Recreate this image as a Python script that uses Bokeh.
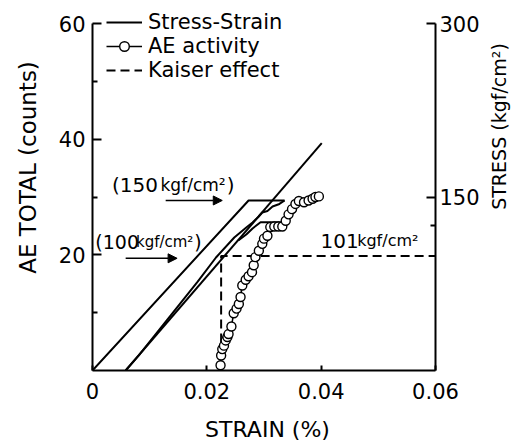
import math
from bokeh.plotting import figure
from bokeh.layouts import row, column
from bokeh.models import (Range1d, LinearAxis, FixedTicker, Label, Arrow, NormalHead,
                          Legend, LegendItem, CustomJSTickFormatter)
from bokeh.embed import file_html
from bokeh.resources import INLINE

FONT = "DejaVu Sans"

# ---------------- data (strain in %, stress in kgf/cm2, AE in counts) ----------------
load_strain = [0.0, 0.0273, 0.0336]
load_stress = [0.0, 147.0, 147.0]

unload_strain = [0.0336, 0.0327, 0.0315, 0.0306, 0.0297, 0.0290, 0.0280, 0.0269,
                 0.0248, 0.0216, 0.0184, 0.0081, 0.0058]
unload_stress = [147.0, 144.0, 141.8, 137.9, 136.6, 132.7, 128.0, 123.6,
                 115.0, 97.7, 76.9, 13.0, 0.0]

reload_strain = [0.0058, 0.0401]
reload_stress = [0.0, 196.5]

hold_strain = [0.0332, 0.0294, 0.0280, 0.0269, 0.0255]
hold_stress = [128.2, 128.2, 122.8, 117.6, 112.4]

ae_strain = [0.0224, 0.0225, 0.0227, 0.0230, 0.0233, 0.0236, 0.0238, 0.0243, 0.0247,
             0.0252, 0.0256, 0.0259, 0.0262, 0.0268, 0.0273, 0.0279, 0.0282, 0.0285,
             0.0291, 0.0297, 0.0300, 0.0306, 0.0311, 0.0318, 0.0325, 0.0332, 0.0338,
             0.0343, 0.0349, 0.0355, 0.0361, 0.0370, 0.0378, 0.0385, 0.0390, 0.0396]
ae_counts = [0.9, 2.6, 3.7, 4.3, 5.2, 5.8, 6.3, 7.6, 9.9,
             10.7, 11.5, 12.7, 14.7, 15.7, 16.3, 17.0, 18.2, 19.6,
             20.7, 21.9, 22.8, 23.3, 24.8, 24.9, 24.9, 24.9, 25.9,
             27.0, 27.9, 28.8, 29.3, 29.1, 29.4, 29.7, 30.0, 30.1]

kaiser_strain = [0.0225, 0.0225, 0.06]
kaiser_stress = [0.0, 99.0, 99.0]

x_ticks = [0, 0.02, 0.04, 0.06]
left_ticks = [20, 40, 60]
left_minor = [10, 30, 50]
right_ticks = [150, 300]
right_minor = [125]

AE_MAX = 60
STRESS_MAX = 300
# frame runs from y=5 to y=370 px; the axes themselves stop at 60 counts / 300 kgf/cm2 (y=23)
EXT = 365.0 / 347.0

TOP_H = 410
LEFT_W = 42
RIGHT_W = 28
MAIN_W = 513 - LEFT_W - RIGHT_W


def blank(width, height):
    f = figure(width=width, height=height, output_backend="svg", toolbar_location=None,
               x_axis_location=None, y_axis_location=None,
               min_border_left=0, min_border_right=0, min_border_top=0, min_border_bottom=0,
               x_range=Range1d(0, 1), y_range=Range1d(0, 1))
    f.outline_line_color = None
    f.xgrid.visible = False
    f.ygrid.visible = False
    f.background_fill_color = "white"
    f.border_fill_color = "white"
    return f

# ---------------- main figure ----------------
p = figure(width=MAIN_W, height=TOP_H, output_backend="svg", toolbar_location=None,
           x_range=Range1d(0, 0.06), y_range=Range1d(0, AE_MAX * EXT),
           min_border_left=92 - LEFT_W, min_border_right=LEFT_W + MAIN_W - 435,
           min_border_top=5, min_border_bottom=TOP_H - 370,
           x_axis_location="below", y_axis_location="left")
p.extra_y_ranges = {"stress": Range1d(0, STRESS_MAX * EXT)}
p.outline_line_color = None
p.xgrid.visible = False
p.ygrid.visible = False
p.background_fill_color = "white"
p.border_fill_color = "white"

def style_axis(ax, size="21px"):
    ax.axis_line_width = 2
    ax.axis_line_color = "black"
    ax.major_tick_line_width = 2
    ax.minor_tick_line_width = 2
    ax.major_tick_out = 0
    ax.minor_tick_out = 0
    ax.major_label_text_font = FONT
    ax.major_label_text_font_size = size
    ax.major_label_text_color = "black"

xa = p.xaxis[0]
style_axis(xa)
xa.ticker = FixedTicker(ticks=x_ticks, minor_ticks=[])
xa.formatter = CustomJSTickFormatter(code="return tick == 0 ? '0' : tick.toFixed(2);")
xa.major_tick_in = 5
xa.major_label_standoff = 12

ya = p.yaxis[0]
style_axis(ya)
ya.bounds = (0, AE_MAX)
ya.ticker = FixedTicker(ticks=left_ticks, minor_ticks=left_minor)
ya.major_tick_in = 9
ya.minor_tick_in = 5
ya.major_label_standoff = 7

ra = LinearAxis(y_range_name="stress", bounds=(0, STRESS_MAX))
style_axis(ra)
ra.ticker = FixedTicker(ticks=right_ticks, minor_ticks=right_minor)
ra.major_tick_in = 9
ra.minor_tick_in = 5
ra.major_label_standoff = 4
p.add_layout(ra, "right")

# ---------------- glyphs ----------------
r_load = p.line(load_strain, load_stress, y_range_name="stress", line_color="black", line_width=2)
p.line(unload_strain, unload_stress, y_range_name="stress", line_color="black", line_width=2)
p.line(reload_strain, reload_stress, y_range_name="stress", line_color="black", line_width=2)
p.line(hold_strain, hold_stress, y_range_name="stress", line_color="black", line_width=2)

r_kaiser = p.line(kaiser_strain, kaiser_stress, y_range_name="stress", line_color="black",
                  line_width=2, line_dash="9 5")

r_ae_line = p.line(ae_strain, ae_counts, line_color="black", line_width=1.5)
r_ae_pts = p.scatter(ae_strain, ae_counts, marker="circle", size=9, fill_color="white",
                     line_color="black", line_width=1.4)

# ---------------- arrows & labels ----------------
p.add_layout(Arrow(x_start=0.0128, y_start=147, x_end=0.0227, y_end=147, y_range_name="stress",
                   line_width=1.5, line_color="black",
                   end=NormalHead(size=9, fill_color="black", line_color="black")))
p.add_layout(Arrow(x_start=0.0058, y_start=97, x_end=0.0148, y_end=97, y_range_name="stress",
                   line_width=1.5, line_color="black",
                   end=NormalHead(size=9, fill_color="black", line_color="black")))

def lab(x, y, text, size):
    p.add_layout(Label(x=x, y=y, y_range_name="stress", text=text, text_font=FONT,
                       text_font_size=size, text_color="black", text_baseline="alphabetic",
                       text_align="left"))

lab(0.0034, 160, "(150", "20px")
lab(0.0119, 160, "kgf/cm\u00b2", "17px")
lab(0.0235, 160, ")", "20px")

lab(0.0005, 111, "(100", "19px")
lab(0.0076, 111, "kgf/cm\u00b2", "15px")
lab(0.0178, 111, ")", "19px")

lab(0.0399, 112, "101", "20px")
lab(0.0463, 112, "kgf/cm\u00b2", "16px")

legend = Legend(items=[LegendItem(label="Stress-Strain", renderers=[r_load]),
                       LegendItem(label="AE activity", renderers=[r_ae_line, r_ae_pts]),
                       LegendItem(label="Kaiser effect", renderers=[r_kaiser])],
                location=(14, 288), orientation="vertical", padding=0, margin=0, spacing=0,
                glyph_width=36, glyph_height=24, label_height=24, label_standoff=6,
                label_text_font=FONT, label_text_font_size="21px", label_text_color="black",
                border_line_color=None, background_fill_alpha=0)
p.add_layout(legend)

# ---------------- axis titles (in thin side strips) ----------------
left_fig = blank(LEFT_W, TOP_H)
left_fig.add_layout(Label(x=27.5, y=TOP_H - 207, x_units="screen", y_units="screen",
                          text="AE TOTAL (counts)", angle=math.pi / 2, text_align="center",
                          text_baseline="middle", text_font=FONT, text_font_size="23px",
                          text_color="black"))

right_fig = blank(RIGHT_W, TOP_H)
right_fig.add_layout(Label(x=13, y=TOP_H - 166, x_units="screen", y_units="screen",
                           text="STRESS (kgf/cm\u00b2)", angle=math.pi / 2, text_align="center",
                           text_baseline="middle", text_font=FONT, text_font_size="19px",
                           text_color="black"))

bottom_fig = blank(513, 441 - TOP_H)
bottom_fig.add_layout(Label(x=267, y=12, x_units="screen", y_units="screen",
                            text="STRAIN (%)", text_align="center", text_baseline="middle",
                            text_font=FONT, text_font_size="22px", text_color="black"))

layout = column(row(left_fig, p, right_fig, spacing=0), bottom_fig, spacing=0)

open("out.html", "w").write(file_html(layout, INLINE))
